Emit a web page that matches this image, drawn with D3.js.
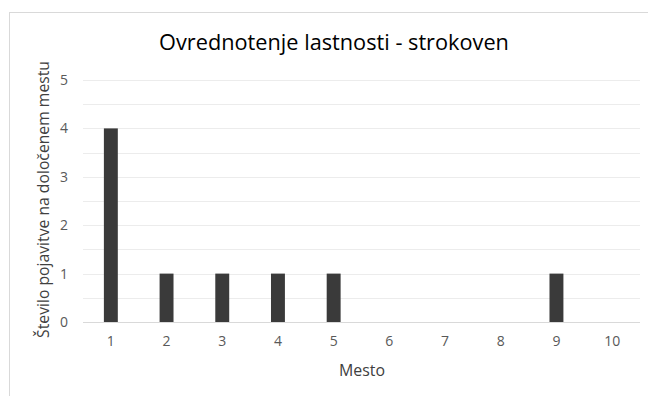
<!DOCTYPE html>
<html>
<head>
<meta charset="utf-8">
<script src="https://cdn.jsdelivr.net/npm/d3@7"></script>
<style>
  html, body { margin: 0; padding: 0; background: #fff; }
  svg { display: block; font-family: "Open Sans", "DejaVu Sans", sans-serif; }
</style>
</head>
<body>
<svg id="chart" width="648" height="396"></svg>
<script>
// Number of appearances at each rank
const categories = ["1", "2", "3", "4", "5", "6", "7", "8", "9", "10"];
const counts = [4, 1, 1, 1, 1, 0, 0, 0, 1, 0];
const yTicks = [0, 1, 2, 3, 4, 5];
const gridValues = [0, 0.5, 1, 1.5, 2, 2.5, 3, 3.5, 4, 4.5, 5];
const titleText = "Ovrednotenje lastnosti - strokoven";
const xTitle = "Mesto";
const yTitle = "Število pojavitve na določenem mestu";

const svg = d3.select("#chart");
const plot = { left: 83, right: 640, top: 80, bottom: 322 };

// Chart frame
svg.append("rect")
  .attr("x", 9.5).attr("y", 12.5)
  .attr("width", 700).attr("height", 500)
  .attr("fill", "#fff").attr("stroke", "#d9d9d9");

const x = d3.scaleBand()
  .domain(categories)
  .range([plot.left, plot.right])
  .paddingInner(0.75).paddingOuter(0.375);

const y = d3.scaleLinear().domain([0, 5]).range([plot.bottom, plot.top]);

// Horizontal gridlines
svg.append("g").selectAll("line").data(gridValues).join("line")
  .attr("x1", plot.left).attr("x2", plot.right)
  .attr("y1", d => Math.round(y(d)) + 0.5).attr("y2", d => Math.round(y(d)) + 0.5)
  .attr("stroke", d => d === 0 ? "#d9d9d9" : "#ececec")
  .attr("stroke-width", 1);

// Bars
svg.append("g").selectAll("rect").data(counts.map((v, i) => ({ c: categories[i], v })))
  .join("rect")
  .attr("x", d => x(d.c))
  .attr("width", x.bandwidth())
  .attr("y", d => y(d.v))
  .attr("height", d => y(0) - y(d.v))
  .attr("fill", "#3a3a3a");

// Y axis labels
const yAxis = d3.axisLeft(y).tickValues(yTicks).tickSize(0).tickPadding(0).tickFormat(d3.format("d"));
const yg = svg.append("g").attr("transform", `translate(68,0)`).call(yAxis);
yg.select(".domain").remove();
yg.selectAll("text").attr("fill", "#595959").style("font-size", "14px")
  .style("font-family", '"Open Sans", sans-serif');

// X axis labels
const xAxis = d3.axisBottom(x).tickSize(0).tickPadding(0);
const xg = svg.append("g").attr("transform", `translate(0,336)`).call(xAxis);
xg.select(".domain").remove();
xg.selectAll("text").attr("fill", "#595959").style("font-size", "14px")
  .style("font-family", '"Open Sans", sans-serif');

// Size a text element so it spans the given width
function fit(sel, width, base) {
  sel.style("font-size", base + "px");
  const w = sel.node().getComputedTextLength();
  sel.style("font-size", (base * width / w).toFixed(2) + "px");
}

// Title
const title = svg.append("text")
  .attr("x", 334).attr("y", 50)
  .attr("text-anchor", "middle")
  .attr("fill", "#000")
  .text(titleText);
fit(title, 350, 20);

// X axis title
const xt = svg.append("text")
  .attr("x", 362).attr("y", 376)
  .attr("text-anchor", "middle")
  .attr("fill", "#404040")
  .text(xTitle);
fit(xt, 46, 15);

// Y axis title
const yt = svg.append("text")
  .attr("transform", "translate(49,199.5) rotate(-90)")
  .attr("text-anchor", "middle")
  .attr("fill", "#404040")
  .text(yTitle);
fit(yt, 277, 15);
</script>
</body>
</html>
